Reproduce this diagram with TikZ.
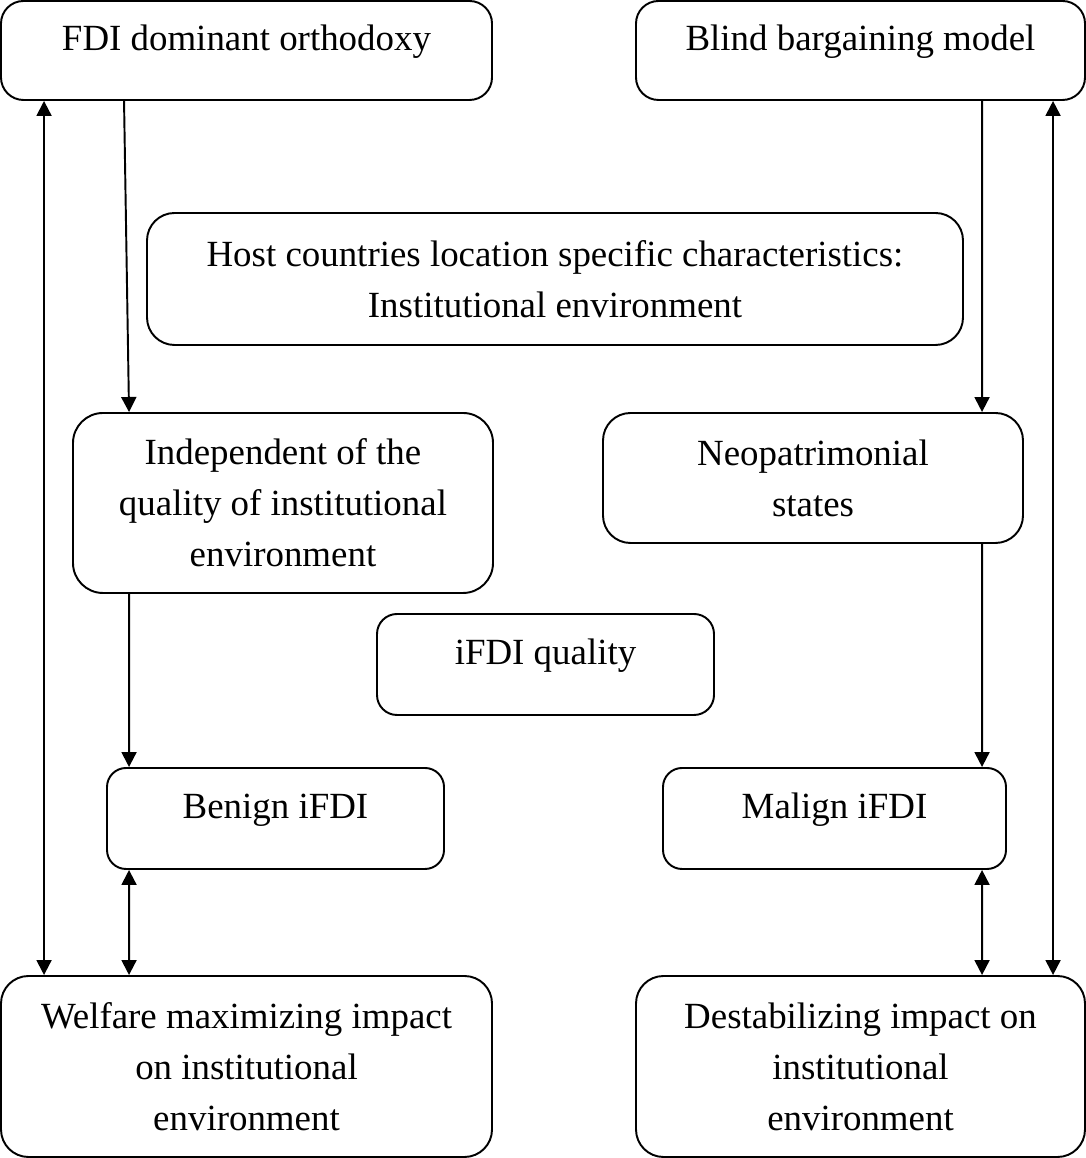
\documentclass[tikz,border=0pt]{standalone}
\usepackage{fontspec}
\setmainfont{Liberation Serif}
\usetikzlibrary{arrows.meta}

\newcommand{\boxtext}[4][0cm]{\parbox[c][#3][c]{#2}{\centering #4\par\vspace{#1}}}

\begin{document}
\begin{tikzpicture}[
	box/.style={draw, line width=1.1pt, rounded corners=0.45cm, inner sep=0pt,
		font=\fontsize{21}{29}\selectfont},
	arr/.style={line width=1.1pt, -{Triangle[width=0.3cm,length=0.3cm]}},
	darr/.style={line width=1.1pt, {Triangle[width=0.3cm,length=0.3cm]}-{Triangle[width=0.3cm,length=0.3cm]}}]
	\useasboundingbox (0, 0) rectangle (21.72, 23.16);
	% top row
	\node[box] (fdi) at (4.93, 22.15) {\boxtext[0.34cm]{9.82cm}{1.98cm}{FDI dominant orthodoxy}};
	\node[box] (blind) at (17.21, 22.15) {\boxtext[0.34cm]{8.98cm}{1.98cm}{Blind bargaining model}};
	\node[box, rounded corners=0.55cm] (host) at (11.1, 17.58) {\boxtext{16.32cm}{2.64cm}{Host countries location specific characteristics:\\Institutional environment}};
	% middle
	\node[box, rounded corners=0.6cm] (indep) at (5.66, 13.1) {\boxtext{8.4cm}{3.6cm}{Independent of the\\quality of institutional\\environment}};
	\node[box, rounded corners=0.55cm] (neo) at (16.26, 13.6) {\boxtext{8.4cm}{2.6cm}{Neopatrimonial\\states}};
	\node[box, rounded corners=0.4cm] (quality) at (10.91, 9.87) {\boxtext[0.34cm]{6.74cm}{2.02cm}{iFDI quality}};
	\node[box, rounded corners=0.38cm] (benign) at (5.51, 6.79) {\boxtext[0.34cm]{6.74cm}{2.02cm}{Benign iFDI}};
	\node[box, rounded corners=0.38cm] (malign) at (16.69, 6.79) {\boxtext[0.34cm]{6.86cm}{2.02cm}{Malign iFDI}};
	% bottom row
	\node[box, rounded corners=0.55cm] (welfare) at (4.93, 1.83) {\boxtext{9.82cm}{3.62cm}{Welfare maximizing impact\\on institutional\\environment}};
	\node[box, rounded corners=0.55cm] (destab) at (17.21, 1.83) {\boxtext{8.98cm}{3.62cm}{Destabilizing impact on\\institutional\\environment}};
	% left side
	\draw[arr] ([xshift=2.48cm]fdi.south west) -- ([xshift=1.14cm]indep.north west);
	\draw[darr] ([xshift=0.88cm]fdi.south west) -- ([xshift=0.88cm]welfare.north west);
	\draw[arr] ([xshift=1.14cm]indep.south west) -- ([xshift=0.46cm]benign.north west);
	\draw[darr] ([xshift=0.46cm]benign.south west) -- ([xshift=2.58cm]welfare.north west);
	% right side
	\draw[arr] ([xshift=6.94cm]blind.south west) -- ([xshift=7.6cm]neo.north west);
	\draw[darr] ([xshift=8.36cm]blind.south west) -- ([xshift=8.36cm]destab.north west);
	\draw[arr] ([xshift=7.6cm]neo.south west) -- ([xshift=6.4cm]malign.north west);
	\draw[darr] ([xshift=6.4cm]malign.south west) -- ([xshift=6.94cm]destab.north west);
\end{tikzpicture}
\end{document}
